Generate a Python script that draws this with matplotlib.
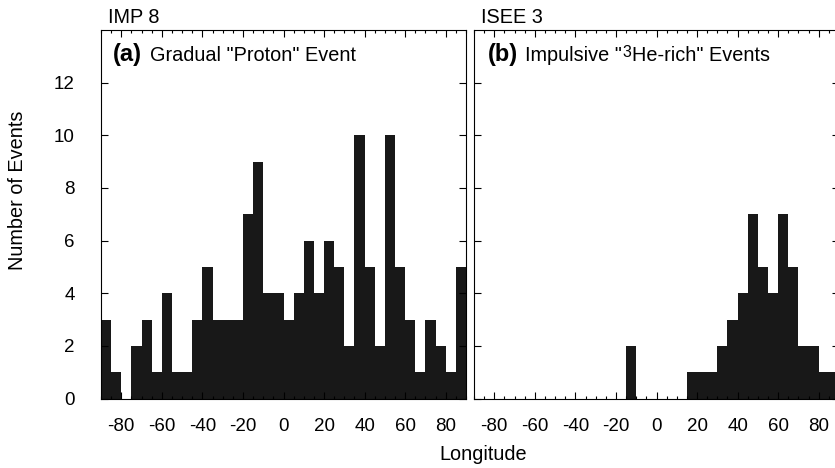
import matplotlib.pyplot as plt
import numpy as np

plt.rcParams['font.family'] = ['Liberation Sans', 'DejaVu Sans']
plt.rcParams['axes.unicode_minus'] = False

# 5 degree longitude bins from -90 to 90
bin_edges = np.arange(-90, 90, 5)

# IMP 8 - gradual "proton" events per bin
gradual_counts = [3, 1, 0, 2, 3, 1, 4, 1, 1, 3, 5, 3, 3, 3, 7, 9, 4, 4,
                  3, 4, 6, 4, 6, 5, 2, 10, 5, 2, 10, 5, 3, 1, 3, 2, 1, 5]
# ISEE 3 - impulsive 3He-rich events per bin
impulsive_counts = [0, 0, 0, 0, 0, 0, 0, 0, 0, 0, 0, 0, 0, 0, 0, 2, 0, 0,
                    0, 0, 0, 1, 1, 1, 2, 3, 4, 7, 5, 4, 7, 5, 2, 2, 1, 1]

xticks = np.arange(-80, 81, 20)
yticks = np.arange(0, 13, 2)
bar_color = '#181818'
txt_size = 14.3

fig = plt.figure(figsize=(8.35, 4.68), dpi=100)
ax1 = fig.add_axes([101/835, 69.5/468, 365/835, 368.5/468])
ax2 = fig.add_axes([474/835, 69.5/468, 365/835, 368.5/468])

for ax, counts in [(ax1, gradual_counts), (ax2, impulsive_counts)]:
    ax.bar(bin_edges, counts, width=5, align='edge', color=bar_color, linewidth=0)
    ax.set_xlim(-90, 90)
    ax.set_ylim(0, 14)
    ax.set_xticks(xticks)
    ax.set_xticks(np.arange(-90, 91, 5), minor=True)
    ax.set_yticks(yticks)
    ax.tick_params(which='both', direction='in', top=True, right=True, width=0.8)
    ax.tick_params(which='major', length=5, labelsize=13.5)
    ax.tick_params(which='minor', length=2.5)
    ax.tick_params(axis='x', pad=14)
    ax.tick_params(axis='y', pad=19)
    for s in ax.spines.values():
        s.set_linewidth(0.8)

ax2.tick_params(axis='y', labelleft=False)

# panel headers
ax1.text(0.02, 1.019, 'IMP 8', transform=ax1.transAxes, fontsize=txt_size, va='baseline')
ax2.text(0.02, 1.019, 'ISEE 3', transform=ax2.transAxes, fontsize=txt_size, va='baseline')

y_lab = 0.915
ax1.text(0.032, y_lab, '(a)', transform=ax1.transAxes, fontsize=17, fontweight='bold', va='baseline')
ax1.text(0.134, y_lab, 'Gradual "Proton" Event', transform=ax1.transAxes, fontsize=txt_size, va='baseline')
ax2.text(0.037, y_lab, '(b)', transform=ax2.transAxes, fontsize=17, fontweight='bold', va='baseline')
t1 = ax2.text(0.14, y_lab, 'Impulsive "', transform=ax2.transAxes, fontsize=txt_size, va='baseline')
t2 = ax2.annotate('3', xy=(1, y_lab), xycoords=(t1, 'axes fraction'), xytext=(0.5, 3.2),
                  textcoords='offset points', fontsize=11.5, va='baseline')
ax2.annotate('He-rich" Events', xy=(1, y_lab), xycoords=(t2, 'axes fraction'),
             fontsize=txt_size, va='baseline')

fig.text(483/835, 1 - 455/468, 'Longitude', fontsize=txt_size, ha='center', va='center')
fig.text(18/835, 1 - 190/468, 'Number of Events', fontsize=txt_size, ha='center', va='center', rotation=90)

fig.savefig('out.png', dpi=100)
